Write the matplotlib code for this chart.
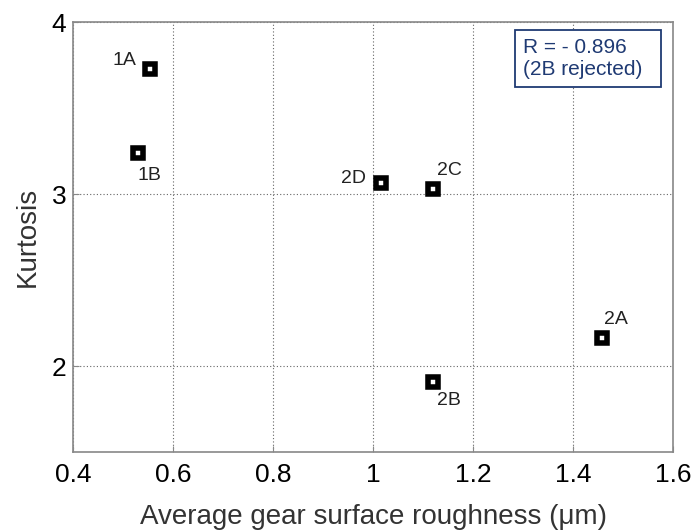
import matplotlib
matplotlib.use('Agg')
import matplotlib.pyplot as plt
from matplotlib.patches import Rectangle

plt.rcParams['font.family'] = ['Liberation Sans', 'DejaVu Sans']

# data
names = ['1A', '1B', '2D', '2C', '2A', '2B']
roughness = [0.553, 0.529, 1.015, 1.119, 1.458, 1.119]
kurtosis = [3.725, 3.240, 3.062, 3.027, 2.165, 1.909]

xticks = [0.4, 0.6, 0.8, 1.0, 1.2, 1.4, 1.6]
xticklabels = ['0.4', '0.6', '0.8', '1', '1.2', '1.4', '1.6']
yticks = [2, 3, 4]

# label offsets in points (dx, dy, ha)
offsets = {
    '1A': (-9.5, 6.5, 'right'),
    '1B': (0, -16.5, 'left'),
    '2D': (-10.5, 3.5, 'right'),
    '2C': (3, 14, 'left'),
    '2A': (1.5, 13.5, 'left'),
    '2B': (3.4, -13.5, 'left'),
}

fig = plt.figure(figsize=(6.96, 5.32), dpi=100)
ax = fig.add_axes([0.105, 0.150, 0.862, 0.8086])

ax.plot(roughness, kurtosis, linestyle='none', marker='s', markersize=7.6,
        markeredgewidth=4, markeredgecolor='black', markerfacecolor='white',
        zorder=3)

for n, xv, yv in zip(names, roughness, kurtosis):
    dx, dy, ha = offsets[n]
    ax.annotate(n, (xv, yv), xytext=(dx, dy), textcoords='offset points',
                ha=ha, va='center', fontsize=14, color='#222222')

ax.set_xlim(0.4, 1.6)
ax.set_ylim(1.5, 4)
ax.set_xticks(xticks)
ax.set_xticklabels(xticklabels)
ax.set_yticks(yticks)
ax.tick_params(direction='in', length=4, color='#888888', labelsize=19)
ax.tick_params(axis='x', pad=8)
ax.tick_params(axis='y', pad=5)
ax.grid(True, linestyle=(0, (1, 2)), color='#666666', linewidth=0.8)
for s in ax.spines.values():
    s.set_color('#888888')
    s.set_linewidth(1.2)

ax.set_xlabel('Average gear surface roughness (\u03bcm)', fontsize=20,
              color='#333333', labelpad=12)
ax.set_ylabel('Kurtosis', fontsize=20, color='#333333', labelpad=8)

# annotation box
ax.add_patch(Rectangle((0.737, 0.849), 0.243, 0.132, transform=ax.transAxes,
                       facecolor='white', edgecolor='#1f3a73', linewidth=1.3,
                       zorder=5))
ax.text(0.75, 0.916, 'R = - 0.896\n(2B rejected)', transform=ax.transAxes,
        ha='left', va='center', fontsize=15, color='#1f3a73', linespacing=1.2,
        zorder=6)

fig.savefig('out.png', dpi=100)
